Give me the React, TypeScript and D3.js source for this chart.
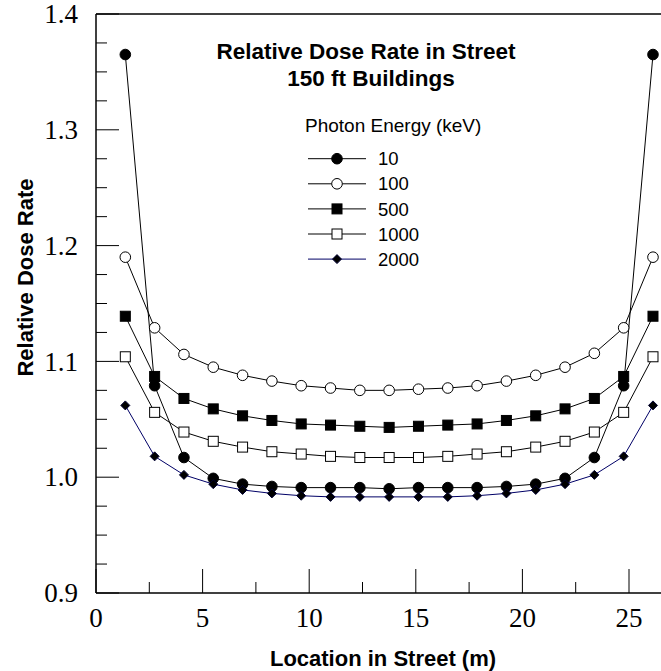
import React from "react";
import * as d3 from "d3";

const WIDTH = 661;
const HEIGHT = 671;
const MARGIN = { top: 14, left: 96, bottom: 78 };
const SANS = "'Liberation Sans', Arial, sans-serif";
const SERIF = "'Liberation Serif', 'Times New Roman', serif";

// location across the street (m)
const location = [
  1.375, 2.75, 4.125, 5.5, 6.875, 8.25, 9.625, 11.0, 12.375, 13.75,
  15.125, 16.5, 17.875, 19.25, 20.625, 22.0, 23.375, 24.75, 26.125,
];

const dose10 = [
  1.365, 1.079, 1.017, 0.999, 0.994, 0.992, 0.991, 0.991, 0.991, 0.990,
  0.991, 0.991, 0.991, 0.992, 0.994, 0.999, 1.017, 1.079, 1.365,
];
const dose100 = [
  1.19, 1.129, 1.106, 1.095, 1.088, 1.083, 1.079, 1.077, 1.075, 1.075,
  1.076, 1.077, 1.079, 1.083, 1.088, 1.095, 1.107, 1.129, 1.19,
];
const dose500 = [
  1.139, 1.087, 1.068, 1.059, 1.053, 1.049, 1.046, 1.045, 1.044, 1.043,
  1.044, 1.045, 1.046, 1.049, 1.053, 1.059, 1.068, 1.087, 1.139,
];
const dose1000 = [
  1.104, 1.056, 1.039, 1.031, 1.026, 1.022, 1.02, 1.018, 1.017, 1.017,
  1.017, 1.018, 1.02, 1.022, 1.026, 1.031, 1.039, 1.056, 1.104,
];
const dose2000 = [
  1.062, 1.018, 1.002, 0.994, 0.989, 0.986, 0.984, 0.983, 0.983, 0.983,
  0.983, 0.983, 0.984, 0.986, 0.989, 0.994, 1.002, 1.018, 1.062,
];

const seriesLabels = ["10", "100", "500", "1000", "2000"];
const yTicks = [0.9, 1.0, 1.1, 1.2, 1.3, 1.4];
const xTicks = [0, 5, 10, 15, 20, 25];

const SERIES = [
  { label: seriesLabels[0], values: dose10, marker: "circle", fill: "#000", line: "#000" },
  { label: seriesLabels[1], values: dose100, marker: "circle", fill: "#fff", line: "#000" },
  { label: seriesLabels[2], values: dose500, marker: "square", fill: "#000", line: "#000" },
  { label: seriesLabels[3], values: dose1000, marker: "square", fill: "#fff", line: "#000" },
  { label: seriesLabels[4], values: dose2000, marker: "diamond", fill: "#000", line: "#000066" },
];

const Marker = ({ type, x, y, fill }) => {
  if (type === "circle") {
    return <circle cx={x} cy={y} r={5.3} fill={fill} stroke="#000" strokeWidth={1} />;
  }
  if (type === "square") {
    return <rect x={x - 5} y={y - 5} width={10} height={10} fill={fill} stroke="#000" strokeWidth={1} />;
  }
  return (
    <path
      d={`M${x},${y - 4.5}L${x + 4.5},${y}L${x},${y + 4.5}L${x - 4.5},${y}Z`}
      fill={fill}
      stroke="#000033"
      strokeWidth={1}
    />
  );
};

export default function App() {
  const xScale = d3.scaleLinear().domain([0, 27.5]).range([MARGIN.left, MARGIN.left + 27.5 * 21.32]);
  const yScale = d3.scaleLinear().domain([0.9, 1.4]).range([HEIGHT - MARGIN.bottom, MARGIN.top]);
  const bottom = yScale(0.9);

  const line = d3
    .line<number>()
    .x((_, i) => xScale(location[i]))
    .y((d) => yScale(d));

  const yMinor = d3.range(0.9, 1.4001, 0.025);
  const xMinor = d3.range(0, 27.6, 2.5);

  return (
    <div>
      <style>{`body{margin:0}`}</style>
      <svg width={WIDTH} height={HEIGHT} style={{ display: "block", background: "#fff" }}>
        {/* frame: top and left/bottom axes */}
        <line x1={MARGIN.left} x2={WIDTH} y1={MARGIN.top} y2={MARGIN.top} stroke="#000" strokeWidth={1.5} />
        <line x1={MARGIN.left} x2={MARGIN.left} y1={MARGIN.top} y2={bottom} stroke="#000" strokeWidth={1.5} />
        <line x1={MARGIN.left} x2={WIDTH} y1={bottom} y2={bottom} stroke="#000" strokeWidth={1.5} />

        {/* y ticks */}
        {yMinor.map((v, i) => (
          <line
            key={`ym${i}`}
            x1={MARGIN.left}
            x2={MARGIN.left + (i % 4 === 0 ? 23 : 11)}
            y1={yScale(v)}
            y2={yScale(v)}
            stroke="#000"
            strokeWidth={1}
          />
        ))}
        {yTicks.map((v) => (
          <text
            key={`yl${v}`}
            x={78}
            y={yScale(v)}
            dy="0.34em"
            textAnchor="end"
            fontFamily={SERIF}
            fontSize={27}
          >
            {v.toFixed(1)}
          </text>
        ))}

        {/* x ticks */}
        {xMinor.map((v, i) => (
          <line
            key={`xm${i}`}
            x1={xScale(v)}
            x2={xScale(v)}
            y1={bottom}
            y2={bottom - (i % 2 === 0 ? 24 : 11)}
            stroke="#000"
            strokeWidth={1}
          />
        ))}
        {xTicks.map((v) => (
          <text
            key={`xl${v}`}
            x={xScale(v)}
            y={627}
            textAnchor="middle"
            fontFamily={SERIF}
            fontSize={27}
          >
            {v}
          </text>
        ))}

        {/* axis titles */}
        <text x={383} y={666} textAnchor="middle" fontFamily={SANS} fontWeight="bold" fontSize={22}>
          Location in Street (m)
        </text>
        <text
          transform="translate(33, 277.5) rotate(-90)"
          textAnchor="middle"
          fontFamily={SANS}
          fontWeight="bold"
          fontSize={22}
        >
          Relative Dose Rate
        </text>

        {/* series */}
        {SERIES.map((s) => (
          <g key={s.label}>
            <path d={line(s.values) ?? ""} fill="none" stroke={s.line} strokeWidth={1} />
            {s.values.map((v, i) => (
              <Marker key={i} type={s.marker} x={xScale(location[i])} y={yScale(v)} fill={s.fill} />
            ))}
          </g>
        ))}

        {/* title */}
        <g fontFamily={SANS} fontWeight="bold" fontSize={22.5} textAnchor="middle">
          <text x={366} y={59}>Relative Dose Rate in Street</text>
          <text x={371} y={86}>150 ft Buildings</text>
        </g>

        {/* legend */}
        <text x={305} y={132} fontFamily={SANS} fontSize={19}>
          Photon Energy (keV)
        </text>
        {SERIES.map((s, i) => {
          const y = 158.7 + i * 25.1;
          return (
            <g key={`lg${s.label}`}>
              <line x1={308} x2={366} y1={y} y2={y} stroke={s.line} strokeWidth={1} />
              <Marker type={s.marker} x={337} y={y} fill={s.fill} />
              <text x={378} y={y} dy="0.36em" fontFamily={SANS} fontSize={18.5}>
                {s.label}
              </text>
            </g>
          );
        })}
      </svg>
    </div>
  );
}
